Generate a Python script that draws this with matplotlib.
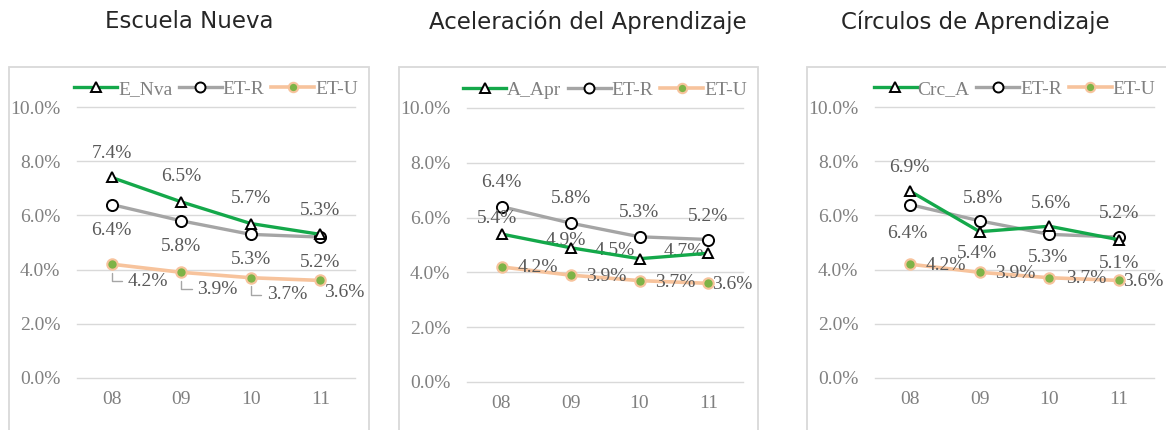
import matplotlib
matplotlib.use('Agg')
import matplotlib.pyplot as plt
from matplotlib.patches import Rectangle

# Data (percent values)
years = ['08', '09', '10', '11']
titles = ['Escuela Nueva', 'Aceleración del Aprendizaje', 'Círculos de Aprendizaje']
model_names = ['E_Nva', 'A_Apr', 'Crc_A']
model_values = [
    [7.4, 6.5, 5.7, 5.3],
    [5.4, 4.9, 4.5, 4.7],
    [6.9, 5.4, 5.6, 5.1],
]
etr_values = [6.4, 5.8, 5.3, 5.2]
etu_values = [4.2, 3.9, 3.7, 3.6]
yticks = [0, 2, 4, 6, 8, 10]

# label offsets in pixels (dx, dy) for each panel / series / point
model_off = [
    [(0, 24), (0, 25), (0, 25), (0, 24)],
    [(-4, 16), (-5, 7), (-25, 8), (-25, 2)],
    [(-1, 24), (-3, -22), (2, 23), (0, -24)],
]
etr_off = [
    [(0, -26), (0, -26), (0, -25), (0, -25)],
    [(0, 24), (0, 25), (0, 24), (0, 23)],
    [(-3, -29), (3, 22), (-1, -23), (0, 24)],
]
etu_off = [
    [(16, -17), (16, -17), (16, -17), (4, -12)],
    [(16, -1), (16, -1), (16, -2), (4, -1)],
    [(16, -1), (15, -1), (17, -1), (4, -1)],
]
leaders = [True, False, False]

W, H = 1166, 430
fig = plt.figure(figsize=(W / 100, H / 100), dpi=100)

# axes boxes in pixels: left, right, top(10%), bottom(0%)
boxes = [(77, 355, 107, 378), (467, 743, 108, 382), (875, 1154, 107, 378)]
frames = [(9, 369), (399, 758), (807, 1200)]
title_x = [189, 588, 975]

green = '#14a84a'
gray = '#a5a5a5'
peach = '#f7c39c'
dot = '#7db347'
txt = '#595959'
tick_c = '#808080'
serif = 'Liberation Serif'

for p in range(3):
    fl, fr = frames[p]
    fig.patches.append(Rectangle((fl / W, -0.1), (fr - fl) / W, 1.1 - 67 / H,
                                 transform=fig.transFigure, fill=False,
                                 edgecolor='#d9d9d9', linewidth=1.3))
    fig.text(title_x[p] / W, 1 - 22 / H, titles[p], ha='center', va='center',
             fontsize=16.5, family='DejaVu Sans', color='#262626')

    l, r, t, b = boxes[p]
    ax = fig.add_axes([l / W, 1 - b / H, (r - l) / W, (b - t) / H])
    x = list(range(len(years)))

    ax.plot(x, model_values[p], color=green, lw=2.4, marker='^', ms=7.5,
            mfc='white', mec='black', mew=1.4, label=model_names[p], zorder=4)
    ax.plot(x, etr_values, color=gray, lw=2.4, marker='o', ms=8,
            mfc='white', mec='black', mew=1.4, label='ET-R', zorder=3)
    ax.plot(x, etu_values, color=peach, lw=2.6, marker='o', ms=7.5,
            mfc=dot, mec=peach, mew=1.5, label='ET-U', zorder=3)

    for i, v in enumerate(model_values[p]):
        ax.annotate(f'{v:.1f}%', (i, v), xytext=model_off[p][i], textcoords='offset pixels',
                    ha='center', va='center', fontsize=14, family=serif, color=txt)
    for i, v in enumerate(etr_values):
        ax.annotate(f'{v:.1f}%', (i, v), xytext=etr_off[p][i], textcoords='offset pixels',
                    ha='center', va='center', fontsize=14, family=serif, color=txt)
    for i, v in enumerate(etu_values):
        arrow = None
        if leaders[p] and i < 3:
            arrow = dict(arrowstyle='-', color='#a6a6a6', lw=1,
                         connectionstyle='angle,angleA=0,angleB=90,rad=0',
                         shrinkA=2, shrinkB=6)
        ax.annotate(f'{v:.1f}%', (i, v), xytext=etu_off[p][i], textcoords='offset pixels',
                    ha='left', va='center', fontsize=14, family=serif, color=txt,
                    arrowprops=arrow)

    ax.set_xlim(-0.5, 3.5)
    ax.set_ylim(0, 10)
    ax.set_xticks(x)
    ax.set_xticklabels(years)
    ax.set_yticks(yticks)
    ax.set_yticklabels([f'{v:.1f}%' for v in yticks])
    ax.tick_params(length=0, labelsize=14, labelcolor=tick_c)
    ax.tick_params(axis='y', pad=12)
    ax.tick_params(axis='x', pad=9)
    for lab in ax.get_xticklabels() + ax.get_yticklabels():
        lab.set_family(serif)
    for s in ax.spines.values():
        s.set_visible(False)
    ax.grid(axis='y', color='#d9d9d9', lw=1)
    for gl in ax.get_ygridlines():
        gl.set_clip_on(False)
    ax.set_axisbelow(True)
    ax.patch.set_alpha(0)

    ax.legend(loc='center', bbox_to_anchor=(0.5, 1 + 18 / (b - t)), ncol=3,
              frameon=False, handlelength=2.2, handletextpad=0.05,
              columnspacing=0.35, prop={'family': serif, 'size': 14},
              labelcolor=tick_c, borderaxespad=0, borderpad=0, markerscale=0.9)

fig.savefig('out.png', dpi=100)
